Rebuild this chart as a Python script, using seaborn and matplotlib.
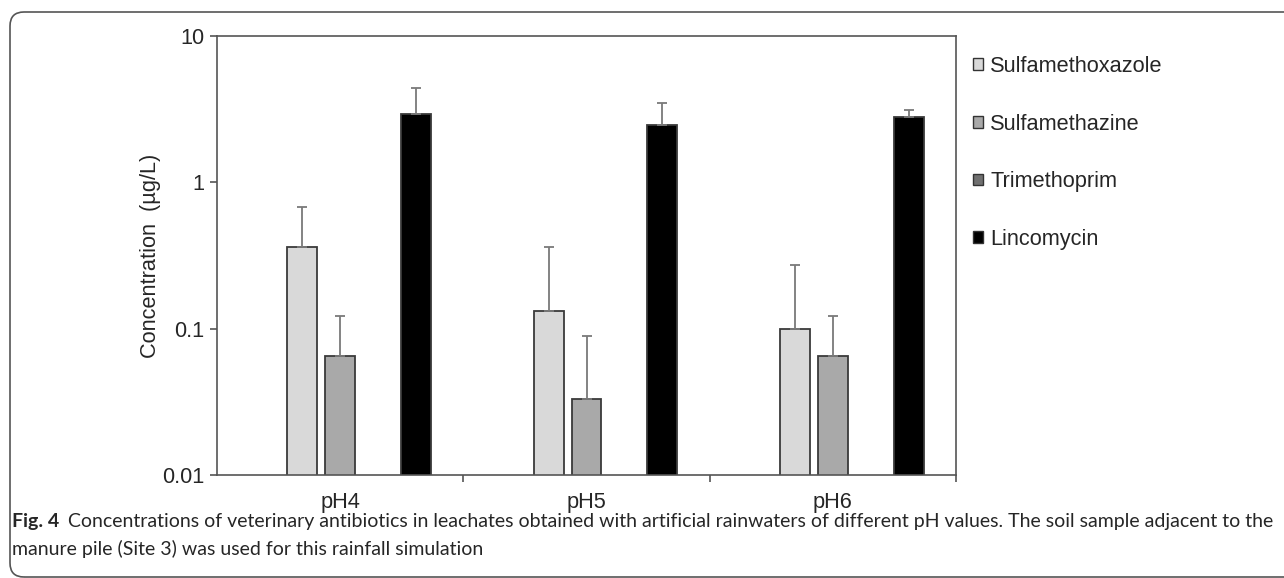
import numpy as np
import pandas as pd
import matplotlib.pyplot as plt
import matplotlib.colors as mcolors
import seaborn as sns
from matplotlib.patches import FancyBboxPatch, Patch
from matplotlib.ticker import FuncFormatter, NullLocator
from matplotlib.transforms import IdentityTransform

# === data (ug/L, log axis) ===
groups = ["pH4", "pH5", "pH6"]
compounds = ["Sulfamethoxazole", "Sulfamethazine", "Trimethoprim", "Lincomycin"]

smx = [0.36, 0.132, 0.099]
smx_err = [0.315, 0.227, 0.172]
smz = [0.065, 0.033, 0.065]
smz_err = [0.058, 0.056, 0.058]
tmp = [np.nan, np.nan, np.nan]      # not detected -> no bar
tmp_err = [0.0, 0.0, 0.0]
lin = [2.91, 2.45, 2.79]
lin_err = [1.47, 1.05, 0.31]

colors = ["#d9d9d9", "#a9a9a9", "#707070", "#000000"]
spacer = " "   # empty slot the original chart leaves on the left of each cluster

# long table for seaborn
values = [smx, smz, tmp, lin]
errors = [smx_err, smz_err, tmp_err, lin_err]
rows = []
for comp, vals in zip(compounds, values):
    for g, v in zip(groups, vals):
        rows.append({"pH": g, "compound": comp, "conc": v})
for g in groups:
    rows.append({"pH": g, "compound": spacer, "conc": np.nan})
df = pd.DataFrame(rows)

palette = dict(zip(compounds, colors))
palette[spacer] = "#ffffff"

# === figure ===
sns.set_style("ticks")
plt.rcParams["font.family"] = ["Liberation Sans", "DejaVu Sans"]
fs = 15.7

fig = plt.figure(figsize=(12.84, 5.78), dpi=100)
ax = fig.add_axes([217 / 1284, 1 - 475 / 578, (956 - 217) / 1284, (475 - 36) / 578])
ax.set_yscale("log")

sns.barplot(data=df, x="pH", y="conc", hue="compound",
            order=groups, hue_order=[spacer] + compounds, palette=palette,
            width=0.77, gap=0.21, errorbar=None, legend=False,
            edgecolor="#3a3a3a", linewidth=1.3, ax=ax)

# upper-only error bars
color_to_comp = {mcolors.to_hex(c): comp for comp, c in zip(compounds, colors)}
err_lookup = dict(zip(compounds, errors))
for bar in ax.patches:
    h = bar.get_height()
    if not np.isfinite(h) or h <= 0:
        continue
    comp = color_to_comp.get(mcolors.to_hex(bar.get_facecolor()))
    if comp is None:
        continue
    cx = bar.get_x() + bar.get_width() / 2
    gi = int(round(cx))
    e = err_lookup[comp][gi]
    ax.errorbar(cx, h, yerr=[[0], [e]], fmt="none", ecolor="#7a7a7a",
                elinewidth=1.3, capsize=3.5, capthick=1.3, zorder=1)

ax.set_ylim(0.01, 10)
ax.set_xlim(-0.5, 2.5)
ax.yaxis.set_minor_locator(NullLocator())
ax.yaxis.set_major_formatter(FuncFormatter(lambda v, p: f"{v:g}"))
ax.set_xticks([0.5, 1.5, 2.5], minor=True)
ax.tick_params(axis="x", which="major", length=0, pad=12, labelsize=fs)
ax.tick_params(axis="x", which="minor", length=5, width=1.2, color="#555555", direction="out")
ax.tick_params(axis="y", which="major", length=5, width=1.2, color="#555555",
               direction="out", pad=4, labelsize=fs)
for s in ax.spines.values():
    s.set_color("#555555")
    s.set_linewidth(1.2)
ax.set_xlabel("")
ax.set_ylabel("Concentration  (\u00b5g/L)", fontsize=fs, labelpad=1)

# legend on the right
handles = [Patch(facecolor=c, edgecolor="#333333", linewidth=1.0) for c in colors]
fig.legend(handles, compounds, loc="upper left",
           bbox_to_anchor=(973 / 1284, 1 - 56 / 578), frameon=False,
           fontsize=fs, handlelength=0.45, handleheight=0.45,
           handletextpad=0.35, labelspacing=1.68, borderpad=0, borderaxespad=0)

# rounded frame, open to the right edge
frame = FancyBboxPatch((10, 1), 1320, 565, boxstyle="round,pad=0,rounding_size=14",
                       transform=IdentityTransform(), facecolor="none",
                       edgecolor="#555555", linewidth=1.2, clip_on=False)
fig.add_artist(frame)

# caption
cap_font = ["Lato", "DejaVu Sans"]
cfs = 14
fig_txt = fig.text(12 / 1284, 1 - 521 / 578, "Fig. 4", fontsize=cfs, weight="bold",
                   family=cap_font, va="center", ha="left")
ax.annotate("Concentrations of veterinary antibiotics in leachates obtained with artificial "
            "rainwaters of different pH values. The soil sample adjacent to the",
            xy=(1, 0.5), xycoords=fig_txt, xytext=(6, 0), textcoords="offset points",
            fontsize=cfs, family=cap_font, va="center", ha="left", annotation_clip=False)
fig.text(12 / 1284, 1 - 549 / 578, "manure pile (Site 3) was used for this rainfall simulation",
         fontsize=cfs, family=cap_font, va="center", ha="left")

fig.savefig("out.png", dpi=100)
